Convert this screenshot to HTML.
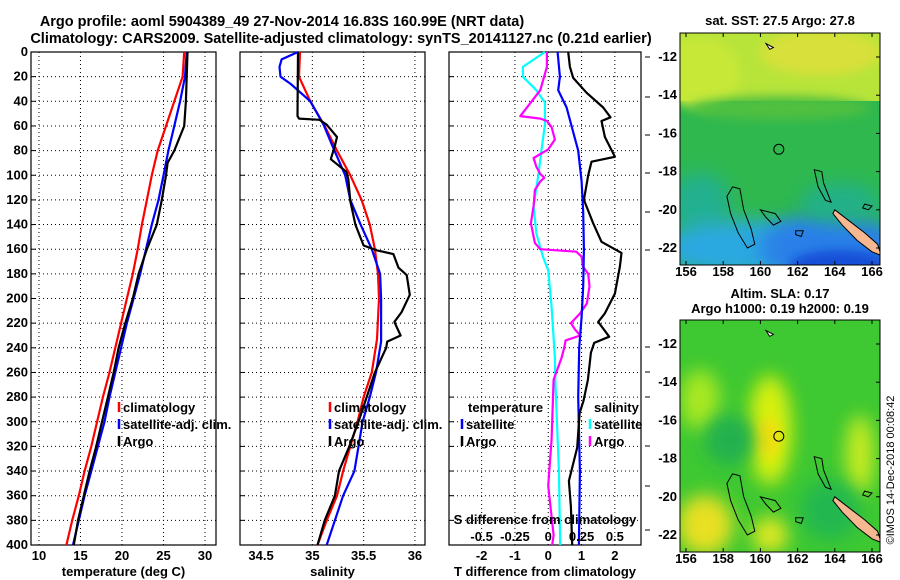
<!DOCTYPE html>
<html><head><meta charset="utf-8"><style>
body{margin:0;background:#fff;}
svg{display:block;font-family:"Liberation Sans",sans-serif;font-weight:bold;}
</style></head><body>
<svg id="c" width="900" height="580" viewBox="0 0 900 580" xmlns="http://www.w3.org/2000/svg">
<defs>
<filter id="bl" x="-50%" y="-50%" width="200%" height="200%"><feGaussianBlur stdDeviation="9"/></filter>
<filter id="bl2" x="-50%" y="-50%" width="200%" height="200%"><feGaussianBlur stdDeviation="5"/></filter>
<clipPath id="m1c"><rect x="680" y="33" width="200" height="232"/></clipPath>
<clipPath id="m2c"><rect x="680" y="320" width="200" height="232"/></clipPath>
</defs>
<text x="282" y="26" font-size="14.5" text-anchor="middle">Argo profile: aoml 5904389_49 27-Nov-2014 16.83S 160.99E (NRT data)</text>
<text x="341" y="43" font-size="14.5" text-anchor="middle">Climatology: CARS2009. Satellite-adjusted climatology: synTS_20141127.nc (0.21d earlier)</text>
<g id="maps"></g>
<g id="plots"></g>
<text transform="translate(894,470) rotate(-90)" font-size="11" font-weight="normal" text-anchor="middle">©IMOS 14-Dec-2018 00:08:42</text>
</svg>
<script>
// ---- data ----
const tDepth = [0,20,40,60,80,100,120,140,160,180,200,220,240,260,280,300,320,340,360,380,400];
const tClim = [27.5,27.3,26.3,25.3,24.3,23.6,23.0,22.4,21.9,21.3,20.6,19.9,19.2,18.5,17.7,17.0,16.3,15.5,14.8,14.0,13.3];
const tSat = [27.8,27.6,27.0,26.3,25.6,25.0,24.4,23.6,22.9,22.2,21.4,20.6,19.9,19.2,18.5,17.9,17.1,16.3,15.5,14.8,14.1];
const argoDepth = [0,20,40,60,80,90,100,120,140,160,180,200,220,240,260,280,300,320,340,360,380,400];
const tArgo = [27.9,27.8,27.7,27.5,26.3,25.5,25.3,24.8,24.2,23.0,22.0,21.3,20.4,19.6,19.0,18.3,17.6,16.9,16.1,15.4,14.7,14.2];

const sClimDepth = [0,20,40,60,80,100,120,140,160,180,200,233,260,280,300,340,360,380,400];
const sClim = [34.88,34.87,34.98,35.12,35.24,35.37,35.48,35.56,35.61,35.64,35.65,35.63,35.58,35.50,35.44,35.30,35.24,35.14,35.05];
const sSatDepth = [0,6,12,20,26,40,59,75,100,120,140,160,180,200,235,260,280,300,340,360,400];
const sSat = [34.86,34.70,34.68,34.69,34.79,34.98,35.11,35.19,35.32,35.37,35.47,35.58,35.66,35.67,35.67,35.62,35.56,35.49,35.41,35.30,35.14];
const sArgoDepth = [0,52,54,55,59,69,76,87,97,103,121,140,157,161,164,175,181,197,211,219,230,235,240,260,280,300,320,340,360,380,400];
const sArgo = [34.86,34.855,34.87,35.07,35.14,35.24,35.22,35.18,35.33,35.35,35.37,35.42,35.50,35.63,35.79,35.84,35.92,35.95,35.87,35.80,35.86,35.73,35.72,35.61,35.53,35.45,35.36,35.26,35.22,35.12,35.05];

const dtSatDepth = [0,20,31,45,65,80,105,130,160,190,215,240,280,340,400];
const dtSat = [0.28,0.35,0.30,0.55,0.75,0.90,1.00,1.05,1.07,1.05,1.00,0.93,0.90,0.95,0.92];
const dtArgoDepth = [0,12,21,33,45,53,56,69,85,89,100,120,139,154,163,174,196,212,219,231,236,244,266,283,293,321,348,369,400];
const dtArgo = [0.6,0.65,0.75,1.15,1.65,1.87,1.6,1.7,2.0,1.3,1.2,1.07,1.35,1.6,2.2,2.15,2.0,1.7,1.5,1.83,1.38,1.28,1.19,1.06,0.94,0.87,0.62,0.68,0.72];
const dsSatDepth = [0,12,20,31,41,59,79,100,125,147,166,177,207,248,266,340,400];
const dsSat = [-0.025,-0.19,-0.19,-0.09,-0.025,-0.025,-0.05,-0.075,-0.11,-0.09,-0.04,0,0.025,0.05,0.053,0.08,0.09];
const dsArgoDepth = [0,12,31,52,54,56,61,71,79,86,93,99,102,105,112,125,139,155,160,162,166,174,180,190,204,212,220,225,230,234,240,248,266,314,352,392,400];
const dsArgo = [-0.01,-0.01,-0.06,-0.21,-0.06,-0.01,0.025,0.05,0,-0.11,-0.09,-0.06,-0.03,-0.06,-0.1,-0.11,-0.13,-0.1,-0.06,0.21,0.25,0.26,0.30,0.31,0.29,0.24,0.17,0.2,0.24,0.13,0.12,0.1,0.04,0.025,0,0.04,0.03];

const depthTicks = [0,20,40,60,80,100,120,140,160,180,200,220,240,260,280,300,320,340,360,380,400];
const tTicks = [10,15,20,25,30];
const sTicks = [34.5,35,35.5,36];
const dtTicks = [-2,-1,0,1,2];
const dsTicks = [-0.5,-0.25,0,0.25,0.5];
const dsTickLabels = ['-0.5','-0.25','0','0.25','0.5'];
const lonTicks = [156,158,160,162,164,166];
const latTicks = [-12,-14,-16,-18,-20,-22];

const NS='http://www.w3.org/2000/svg';
function el(tag, attrs, parent, txt){const e=document.createElementNS(NS,tag);for(const k in attrs)e.setAttribute(k,attrs[k]);if(txt!==undefined)e.textContent=txt;parent.appendChild(e);return e;}
const plots=document.getElementById('plots');
const TOP=52,BOT=545;
const FS=13;
const yD=d=>TOP+d*(BOT-TOP)/400;

const panels=[
 {name:'temperature',x0:31,x1:216,min:9.04,max:31.33,ticks:tTicks,title:'temperature (deg C)'},
 {name:'salinity',x0:240,x1:425,min:34.295,max:36.098,ticks:sTicks,title:'salinity'},
 {name:'t-difference',x0:449,x1:641,min:-2.98,max:2.785,ticks:dtTicks,title:'T difference from climatology'}
];
function xf(p){return v=>p.x0+(v-p.min)*(p.x1-p.x0)/(p.max-p.min);}

panels.forEach((p,i)=>{
  const g=el('g',{},plots);
  
  
  const X=xf(p);
  depthTicks.forEach(d=>{ if(d>0&&d<400){const l=el('line',{x1:p.x0,x2:p.x1,y1:yD(d),y2:yD(d),stroke:'#000','stroke-width':1,'stroke-dasharray':'1,3'},g);
    }
    const tk=el('line',{x1:p.x0,x2:p.x0+5,y1:yD(d),y2:yD(d),stroke:'#000'},g);
    
  });
  p.ticks.forEach(v=>{const l=el('line',{x1:X(v),x2:X(v),y1:TOP,y2:BOT,stroke:'#000','stroke-dasharray':'1,3'},g);
    
    const t=el('text',{x:X(v),y:560,'font-size':FS,'text-anchor':'middle'},g,String(v));
    
  });
  const fr=el('rect',{x:p.x0,y:TOP,width:p.x1-p.x0,height:BOT-TOP,fill:'none',stroke:'#000','stroke-width':1.2},g);
  
  const tt=el('text',{x:(p.x0+p.x1)/2,y:576,'font-size':FS,'text-anchor':'middle'},g,p.title);
  
});
depthTicks.forEach(d=>{const t=el('text',{x:28,y:yD(d)+4,'font-size':FS,'text-anchor':'end'},plots,String(d));
  });

function line(p,depths,vals,color,name,xfun){
  const X=xfun||xf(p);
  const pts=depths.map((d,i)=>X(vals[i]).toFixed(1)+','+yD(d).toFixed(1)).join(' ');
  const pl=el('polyline',{points:pts,fill:'none',stroke:color,'stroke-width':2.2,'stroke-linejoin':'round'},plots);
  
}
line(panels[0],tDepth,tClim,'#ff0000','temp-climatology-line');
line(panels[0],tDepth,tSat,'#0000ff','temp-satellite-line');
line(panels[0],argoDepth,tArgo,'#000','temp-argo-line');
line(panels[1],sClimDepth,sClim,'#ff0000','sal-climatology-line');
line(panels[1],sSatDepth,sSat,'#0000ff','sal-satellite-line');
line(panels[1],sArgoDepth,sArgo,'#000','sal-argo-line');
const p3=panels[2];const X3=xf(p3);const XS=v=>X3(v*4);
line(p3,dsSatDepth,dsSat,'#00ffff','s-diff-satellite-line',XS);
line(p3,dsArgoDepth,dsArgo,'#ff00ff','s-diff-argo-line',XS);
line(p3,dtSatDepth,dtSat,'#0000ff','t-diff-satellite-line');
line(p3,dtArgoDepth,dtArgo,'#000','t-diff-argo-line');

const st=el('text',{x:545,y:524,'font-size':FS,'text-anchor':'middle'},plots,'S difference from climatology');

dsTicks.forEach((v,i)=>{const t=el('text',{x:XS(v),y:541,'font-size':FS,'text-anchor':'middle'},plots,dsTickLabels[i]);
  });
const rticks=[57,97,135,173,212,250,347,372,397,446,486,530];
rticks.forEach(y=>{const l=el('line',{x1:645,x2:650,y1:y,y2:y,stroke:'#000'},plots);
  });

function legend(x,y,color,label,name){
  const g=el('g',{},plots);
  
  el('line',{x1:x,x2:x,y1:y-10,y2:y,stroke:color,'stroke-width':2.5},g);
  el('text',{x:x+4,y:y,'font-size':FS},g,label);
}
legend(119,412,'#ff0000','climatology','legend-climatology');
legend(119,429,'#0000ff','satellite-adj. clim.','legend-satellite');
legend(119,446,'#000','Argo','legend-argo');
legend(330,412,'#ff0000','climatology','legend-sal-climatology');
legend(330,429,'#0000ff','satellite-adj. clim.','legend-sal-satellite');
legend(330,446,'#000','Argo','legend-sal-argo');
const lt=el('text',{x:468,y:412,'font-size':FS},plots,'temperature');
const ls=el('text',{x:594,y:412,'font-size':FS},plots,'salinity');
legend(462,429,'#0000ff','satellite','legend-t-satellite');
legend(462,446,'#000','Argo','legend-t-argo');
legend(590,429,'#00ffff','satellite','legend-s-satellite');
legend(590,446,'#ff00ff','Argo','legend-s-argo');

// ---- maps ----
const maps=document.getElementById('maps');
function lonX(l){return 686+(l-156)*18.6;}
function drawMap(top,title,clip,kind){
  const g=el('g',{},maps);
  
  const latY=l=>top+24+(-12-l)*19.1;
  const cg=el('g',{'clip-path':'url(#'+clip+')'},g);
  if(kind==='sst'){
    el('rect',{x:680,y:top,width:200,height:232,fill:'#2fb84e'},cg);
    el('rect',{x:680,y:top,width:200,height:68,fill:'#b8e43a'},cg);
    el('ellipse',{cx:700,cy:top+40,rx:40,ry:35,fill:'#c8e838',filter:'url(#bl2)'},cg);
    el('ellipse',{cx:820,cy:top+20,rx:60,ry:22,fill:'#d8e03a',filter:'url(#bl2)'},cg);
    el('ellipse',{cx:780,cy:top+75,rx:90,ry:12,fill:'#50c040',filter:'url(#bl2)'},cg);
    el('ellipse',{cx:700,cy:top+170,rx:30,ry:30,fill:'#22b090',filter:'url(#bl)'},cg);
    el('ellipse',{cx:740,cy:top+215,rx:80,ry:28,fill:'#2aa8e0',filter:'url(#bl)'},cg);
    el('ellipse',{cx:830,cy:top+215,rx:70,ry:35,fill:'#2a80e8',filter:'url(#bl)'},cg);
    el('ellipse',{cx:840,cy:top+232,rx:50,ry:15,fill:'#1850d8',filter:'url(#bl2)'},cg);
    el('ellipse',{cx:840,cy:top+170,rx:40,ry:20,fill:'#22b088',filter:'url(#bl)'},cg);
  } else {
    el('rect',{x:680,y:top,width:200,height:232,fill:'#3ec832'},cg);
    el('ellipse',{cx:770,cy:top+110,rx:22,ry:55,fill:'#d8f010',filter:'url(#bl)'},cg);
    el('ellipse',{cx:768,cy:top+118,rx:12,ry:20,fill:'#f0e010',filter:'url(#bl2)'},cg);
    el('ellipse',{cx:700,cy:top+80,rx:20,ry:30,fill:'#a8e820',filter:'url(#bl)'},cg);
    el('ellipse',{cx:705,cy:top+205,rx:28,ry:30,fill:'#e8e020',filter:'url(#bl)'},cg);
    el('ellipse',{cx:770,cy:top+215,rx:18,ry:18,fill:'#e0e820',filter:'url(#bl)'},cg);
    el('ellipse',{cx:860,cy:top+135,rx:14,ry:40,fill:'#c8ec20',filter:'url(#bl)'},cg);
    el('ellipse',{cx:730,cy:top+120,rx:25,ry:25,fill:'#20b050',filter:'url(#bl)'},cg);
    el('ellipse',{cx:830,cy:top+190,rx:30,ry:30,fill:'#20b850',filter:'url(#bl)'},cg);
  }
  const X=lonX, Y=latY;
  const poly=(pts,fill,stroke)=>{const p=el('polygon',{points:pts.map(a=>X(a[0]).toFixed(1)+','+Y(a[1]).toFixed(1)).join(' '),fill:fill,stroke:stroke,'stroke-width':1},cg);return p;};
  const nc=poly([[164,-20.0],[164.8,-20.6],[165.6,-21.2],[166.3,-21.8],[166.5,-22.4],[166.0,-22.2],[165.2,-21.6],[164.4,-20.8],[163.9,-20.2]],'#f5b890','#000');
  
  const r1=poly([[158.5,-18.8],[158.9,-18.9],[159.1,-20.0],[159.5,-21.0],[159.7,-21.8],[159.3,-22.0],[158.8,-21.2],[158.4,-20.2],[158.2,-19.3]],'none','#000');
  
  const r2=poly([[162.9,-17.9],[163.3,-18.0],[163.4,-18.6],[163.8,-19.6],[163.5,-19.5],[163.1,-18.8]],'none','#000');
  
  const r3=poly([[160.0,-20.0],[160.8,-20.2],[161.1,-20.6],[160.7,-20.8],[160.3,-20.4]],'none','#000');
  
  const r4=poly([[165.6,-19.7],[166.0,-19.8],[165.8,-20.0],[165.5,-19.9]],'none','#000');
  
  const r5=poly([[161.9,-21.1],[162.3,-21.1],[162.2,-21.4],[161.9,-21.3]],'none','#000');
  
  const r6=poly([[160.3,-11.3],[160.7,-11.5],[160.5,-11.6]],'#fff','#000');
  
  const c=el('circle',{cx:X(160.99),cy:Y(-16.83),r:5,fill:'none',stroke:'#000','stroke-width':1},g);
  
  const fr=el('rect',{x:680,y:top,width:200,height:232,fill:'none',stroke:'#000'},g);
  
  lonTicks.forEach(l=>{const t=el('text',{x:X(l),y:top+243,'font-size':FS,'text-anchor':'middle'},g,String(l));
    
    el('line',{x1:X(l),x2:X(l),y1:top,y2:top+4,stroke:'#000'},g);
    el('line',{x1:X(l),x2:X(l),y1:top+232,y2:top+228,stroke:'#000'},g);});
  latTicks.forEach(l=>{const t=el('text',{x:677,y:Y(l)+4,'font-size':FS,'text-anchor':'end'},g,String(l));
    
    el('line',{x1:880,x2:876,y1:Y(l),y2:Y(l),stroke:'#000'},g);});
  title.forEach((s,i)=>{const t=el('text',{x:780,y:(kind==='sst'?25:top-22+i*15),'font-size':FS,'text-anchor':'middle'},g,s);
    });
}
drawMap(33,['sat. SST: 27.5 Argo: 27.8'],'m1c','sst');
drawMap(320,['Altim. SLA: 0.17','Argo h1000: 0.19 h2000: 0.19'],'m2c','sla');
</script>
</body></html>
